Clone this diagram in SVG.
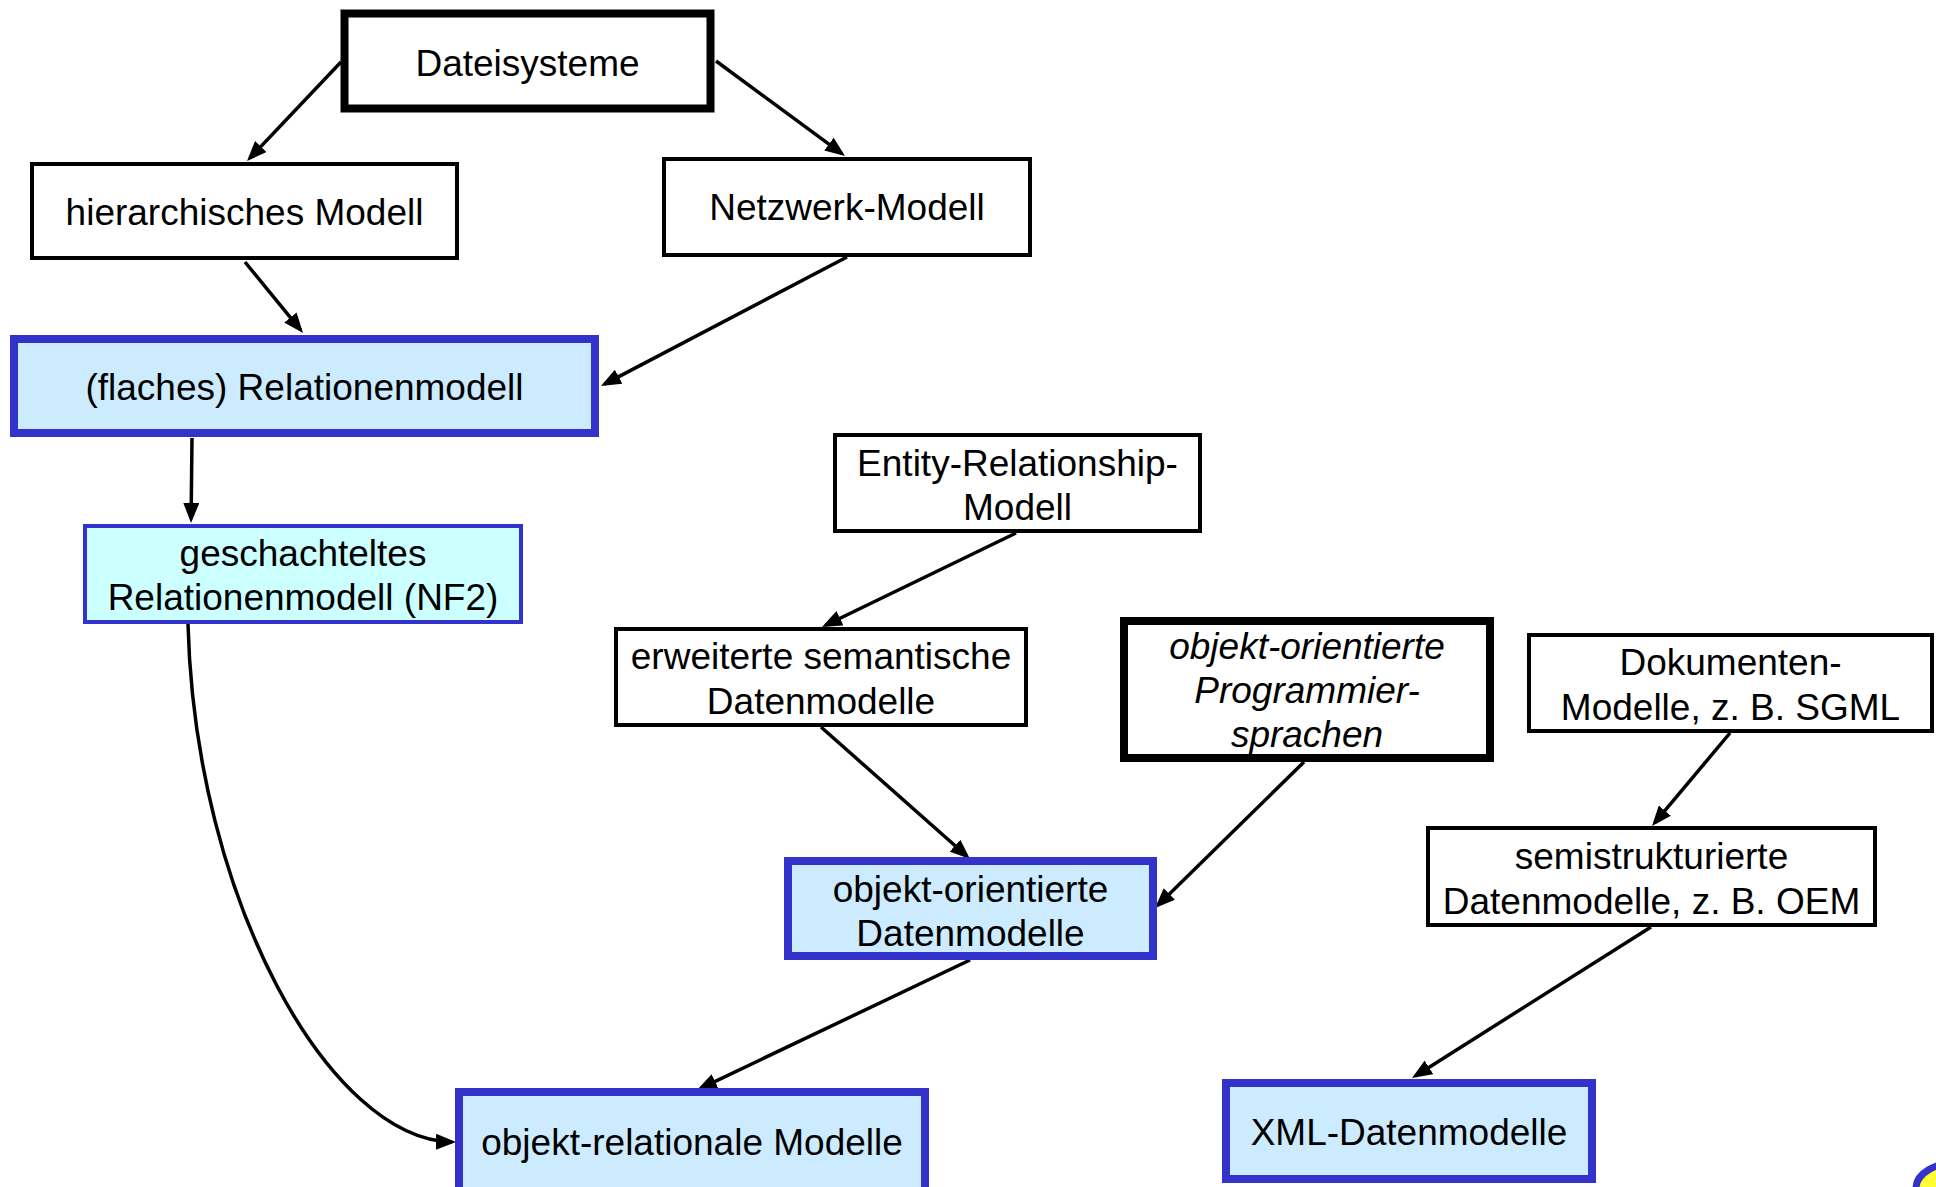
<svg xmlns="http://www.w3.org/2000/svg" width="1936" height="1187" viewBox="0 0 1936 1187">
  <style>
    .box { fill: #ffffff; stroke: #000000; stroke-width: 4; }
    .thick { fill: #ffffff; stroke: #000000; stroke-width: 8; }
    .rel { fill: #CCEBFF; stroke: #3333CC; stroke-width: 8; }
    .nf2 { fill: #CCFFFF; stroke: #3333CC; stroke-width: 4; }
    text { font-family: "Liberation Sans", Arial, sans-serif; font-size: 37px; fill: #000000; text-anchor: middle; }
    .it { font-style: italic; }
    .edge { fill: none; stroke: #000000; stroke-width: 3.5; marker-end: url(#arrow); }
  </style>
  <defs>
    <marker id="arrow" markerUnits="userSpaceOnUse" markerWidth="20" markerHeight="16" refX="16" refY="8" orient="auto">
      <path d="M0,0 L20,8 L0,16 z" fill="#000000"/>
    </marker>
  </defs>

  <rect width="1936" height="1187" fill="#ffffff"/>

  <g id="connectors">
    <line class="edge" x1="341" y1="62" x2="249.8" y2="158.1"/>
    <line class="edge" x1="716" y1="61" x2="841.8" y2="153.6"/>
    <line class="edge" x1="245" y1="262" x2="300.5" y2="329.9"/>
    <line class="edge" x1="847" y1="257" x2="604.5" y2="384.1"/>
    <line class="edge" x1="192" y1="438" x2="191.1" y2="519"/>
    <path class="edge" d="M188,624 C195,900 330,1140 452,1142"/>
    <line class="edge" x1="1016" y1="533" x2="825.6" y2="625.3"/>
    <line class="edge" x1="821" y1="727" x2="967" y2="856.3"/>
    <line class="edge" x1="1304" y1="762" x2="1157.9" y2="905.2"/>
    <line class="edge" x1="970" y1="960" x2="700.6" y2="1088.3"/>
    <line class="edge" x1="1730" y1="733" x2="1654.6" y2="822.9"/>
    <line class="edge" x1="1651" y1="927" x2="1415.4" y2="1075.9"/>
  </g>

  <g id="dateisysteme">
    <rect class="thick" x="344.5" y="13.5" width="366" height="95"/>
    <text x="527.5" y="76">Dateisysteme</text>
  </g>

  <g id="hierarchisch">
    <rect class="box" x="32" y="164" width="425" height="94"/>
    <text x="244.5" y="225">hierarchisches Modell</text>
  </g>

  <g id="netzwerk">
    <rect class="box" x="664" y="159" width="366" height="96"/>
    <text x="847" y="220">Netzwerk-Modell</text>
  </g>

  <g id="relationenmodell">
    <rect class="rel" x="14" y="339" width="581" height="94"/>
    <text x="304.5" y="400">(flaches) Relationenmodell</text>
  </g>

  <g id="nf2">
    <rect class="nf2" x="85" y="526" width="436" height="96"/>
    <text x="303" y="566">geschachteltes</text>
    <text x="303" y="610">Relationenmodell (NF2)</text>
  </g>

  <g id="er-modell">
    <rect class="box" x="835" y="435" width="365" height="96"/>
    <text x="1017.5" y="476">Entity-Relationship-</text>
    <text x="1017.5" y="520">Modell</text>
  </g>

  <g id="semantisch">
    <rect class="box" x="616" y="629" width="410" height="96"/>
    <text x="821" y="669">erweiterte semantische</text>
    <text x="821" y="714">Datenmodelle</text>
  </g>

  <g id="oo-sprachen">
    <rect class="thick" x="1124" y="621" width="366" height="137"/>
    <text class="it" x="1307" y="659">objekt-orientierte</text>
    <text class="it" x="1307" y="703">Programmier-</text>
    <text class="it" x="1307" y="747">sprachen</text>
  </g>

  <g id="dokumente">
    <rect class="box" x="1529" y="635" width="403" height="96"/>
    <text x="1730.5" y="675">Dokumenten-</text>
    <text x="1730.5" y="720">Modelle, z. B. SGML</text>
  </g>

  <g id="semistrukturiert">
    <rect class="box" x="1428" y="828" width="447" height="97"/>
    <text x="1651.5" y="869">semistrukturierte</text>
    <text x="1651.5" y="914">Datenmodelle, z. B. OEM</text>
  </g>

  <g id="oo-datenmodelle">
    <rect class="rel" x="788" y="861" width="365" height="95"/>
    <text x="970.5" y="902">objekt-orientierte</text>
    <text x="970.5" y="946">Datenmodelle</text>
  </g>

  <g id="objekt-relational">
    <rect class="rel" x="459" y="1092" width="466" height="100"/>
    <text x="692" y="1155">objekt-relationale Modelle</text>
  </g>

  <g id="xml">
    <rect class="rel" x="1226" y="1083" width="366" height="96"/>
    <text x="1409" y="1145">XML-Datenmodelle</text>
  </g>

  <!-- corner emblem, mostly outside the page -->
  <ellipse cx="1960" cy="1188" rx="44" ry="26" fill="#FFFF33" stroke="#3333CC" stroke-width="7"/>
</svg>
